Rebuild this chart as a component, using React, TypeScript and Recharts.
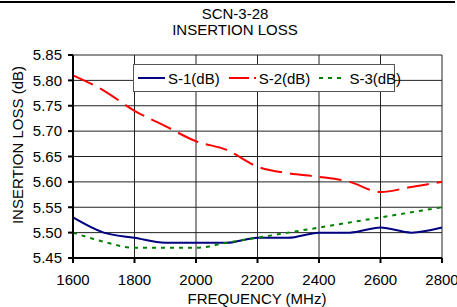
import React from "react";
import { LineChart, Line, XAxis, YAxis, CartesianGrid, Legend } from "recharts";

const frequencies = [1600, 1700, 1800, 1900, 2000, 2100, 2200, 2300, 2400, 2500, 2600, 2700, 2800];
const s1 = [5.53, 5.50, 5.49, 5.48, 5.48, 5.48, 5.49, 5.49, 5.50, 5.50, 5.51, 5.50, 5.51];
const s2 = [5.81, 5.78, 5.74, 5.71, 5.68, 5.663, 5.63, 5.617, 5.61, 5.60, 5.58, 5.59, 5.60];
const s3 = [5.50, 5.482, 5.47, 5.47, 5.47, 5.48, 5.49, 5.50, 5.51, 5.52, 5.53, 5.54, 5.55];
const xTicks = [1600, 1800, 2000, 2200, 2400, 2600, 2800];
const yTicks = [5.45, 5.5, 5.55, 5.6, 5.65, 5.7, 5.75, 5.8, 5.85];

const data = frequencies.map((f, i) => ({ f, s1: s1[i], s2: s2[i], s3: s3[i] }));

const FONT = "'Liberation Sans', Arial, sans-serif";
const FS = 15;

const series = [
  { key: "s1", name: "S-1(dB)", color: "#000080", dash: undefined as string | undefined, legendDash: undefined as string | undefined },
  { key: "s2", name: "S-2(dB)", color: "#ff0000", dash: "22 8", legendDash: "20 5 3 5" },
  { key: "s3", name: "S-3(dB)", color: "#008000", dash: "4 5", legendDash: "4 5" },
];

const LegendBox = () => (
  <div
    style={{
      width: 260,
      height: 26,
      border: "1px solid #555",
      background: "#fff",
      display: "flex",
      alignItems: "center",
      fontFamily: FONT,
      fontSize: FS,
      color: "#000",
      whiteSpace: "nowrap",
      boxSizing: "content-box",
    }}
  >
    {series.map((s) => (
      <div key={s.key} style={{ display: "flex", alignItems: "center", marginLeft: 4, marginRight: 5 }}>
        <svg width={27} height={6} style={{ marginRight: 3 }}>
          <line x1={0} y1={3} x2={27} y2={3} stroke={s.color} strokeWidth={2} strokeDasharray={s.legendDash} />
        </svg>
        <span>{s.name}</span>
      </div>
    ))}
  </div>
);

export default function App() {
  return (
    <div style={{ position: "absolute", left: 0, top: 0, width: 457, height: 307, overflow: "hidden", background: "#fff", fontFamily: FONT }}>
      <div style={{ position: "absolute", left: 0, top: 1, width: 455, height: 2, background: "#000" }} />
      <div style={{ position: "absolute", left: 135, width: 200, top: 6, textAlign: "center", fontSize: FS, lineHeight: "16px", color: "#000" }}>
        SCN-3-28
        <br />
        INSERTION LOSS
      </div>
      <LineChart width={457} height={307} data={data} margin={{ top: 55, right: 15, bottom: 0, left: 0 }}>
        <CartesianGrid stroke="#222" strokeWidth={1} />
        <XAxis
          dataKey="f"
          type="number"
          domain={[1600, 2800]}
          ticks={xTicks}
          height={49}
          stroke="#000"
          strokeWidth={2}
          tickSize={5}
          tickMargin={11}
          tick={{ fill: "#000", fontSize: FS, fontFamily: FONT }}
          label={{
            content: () => (
              <text x={257} y={298} textAnchor="middle" dominantBaseline="central" fontSize={FS} fontFamily={FONT} fill="#000">
                FREQUENCY (MHz)
              </text>
            ),
          }}
        />
        <YAxis
          type="number"
          domain={[5.45, 5.85]}
          ticks={yTicks}
          width={73}
          stroke="#000"
          strokeWidth={2}
          tickSize={5}
          tickMargin={6}
          tickFormatter={(v: number) => v.toFixed(2)}
          tick={{ fill: "#000", fontSize: FS, fontFamily: FONT }}
          label={{
            content: () => (
              <text x={17} y={145} transform="rotate(-90 17 145)" textAnchor="middle" dominantBaseline="central" fontSize={FS} fontFamily={FONT} fill="#000">
                INSERTION LOSS (dB)
              </text>
            ),
          }}
        />
        <Legend
          layout="horizontal"
          verticalAlign="middle"
          align="center"
          content={<LegendBox />}
          wrapperStyle={{ position: "absolute", left: 133, top: 64, width: 262, height: 28 }}
        />
        {series.map((s) => (
          <Line
            key={s.key}
            dataKey={s.key}
            name={s.name}
            type="monotone"
            stroke={s.color}
            strokeWidth={2}
            strokeDasharray={s.dash}
            dot={false}
            activeDot={false}
            isAnimationActive={false}
          />
        ))}
      </LineChart>
    </div>
  );
}
